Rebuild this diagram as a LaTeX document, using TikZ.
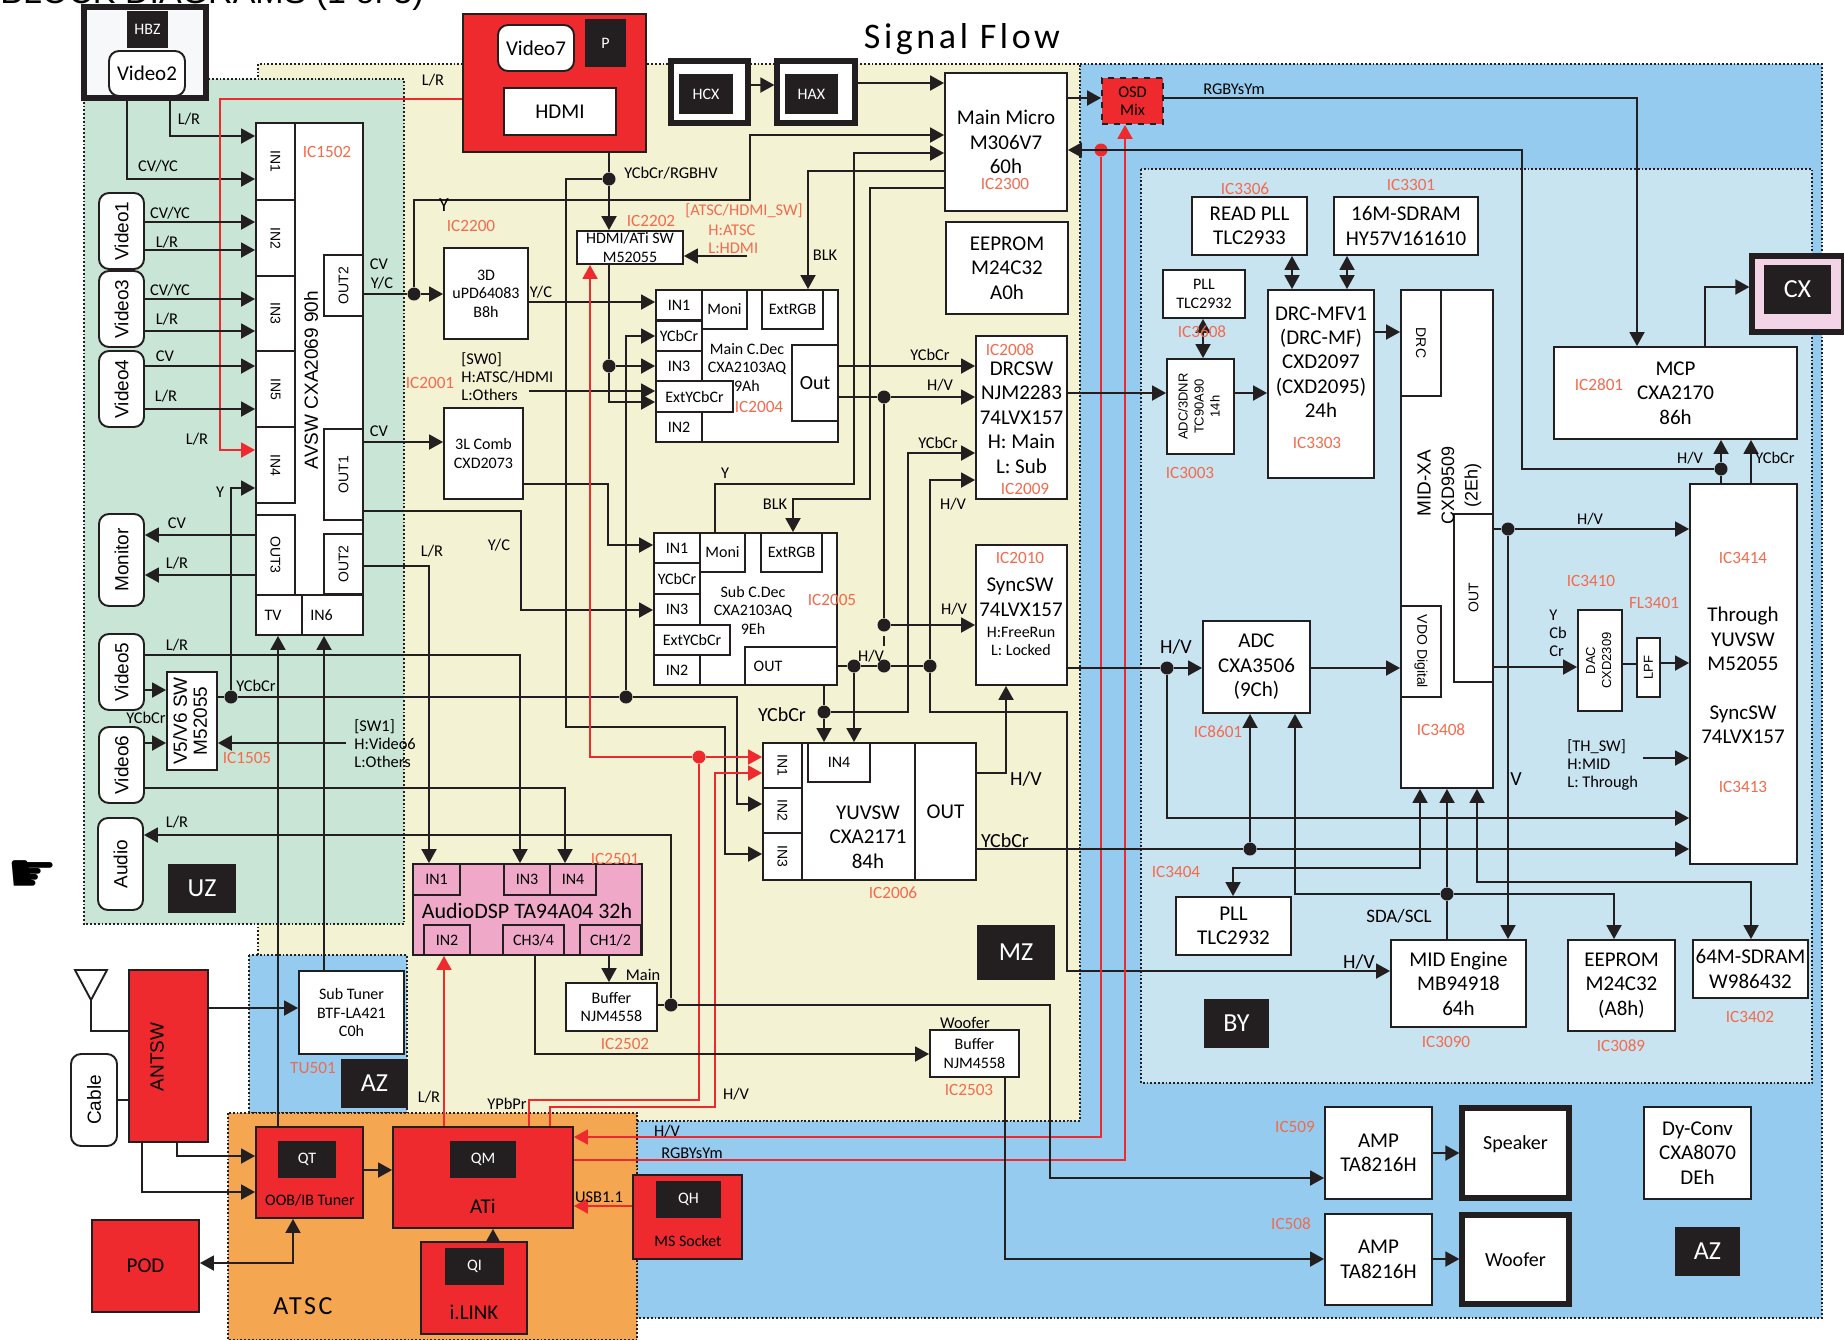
\documentclass[tikz,border=0pt]{standalone}
\usepackage{fontspec}
\setmainfont{Carlito}
\newfontfamily\widefont{Liberation Sans}
\newfontfamily\symfont{DejaVu Sans}
\usetikzlibrary{arrows.meta}
\definecolor{inkblack}{HTML}{231F20}
\definecolor{boxred}{HTML}{EE2A2E}
\definecolor{icred}{HTML}{F26B4E}
\definecolor{zoneyellow}{HTML}{F3F2D3}
\definecolor{zonegreen}{HTML}{C9E5D6}
\definecolor{zoneblue}{HTML}{94CBEE}
\definecolor{zonelight}{HTML}{C8E4F1}
\definecolor{zoneorange}{HTML}{F4A651}
\definecolor{dsppink}{HTML}{F0A8C9}
\definecolor{cxpink}{HTML}{F2D4E6}
\definecolor{hbzpale}{HTML}{F6F8FA}
\newcommand{\fsz}[2]{\fontsize{#1}{#2}\selectfont}
\tikzset{
  span/.style n args={4}{at={({(#1+#3)/2},{(#2+#4)/2})},
    minimum width={(#3-#1)*0.5pt},minimum height={(#4-#2)*0.5pt}},
  zone/.style={draw=inkblack,densely dotted,line width=0.9pt},
  chip/.style={draw=inkblack,fill=white,line width=0.95pt,inner sep=0pt,align=center,text=black},
  redchip/.style={chip,fill=boxred},
  pinkchip/.style={chip,fill=dsppink},
  tagbox/.style={fill=inkblack,text=white,inner sep=0pt,align=center,font=\fsz{8}{10}},
  zonetag/.style={tagbox,font=\fsz{13}{15}},
  framebox/.style={chip,line width=2.6pt},
  jackbox/.style={chip,rounded corners=5pt},
  jdot/.style={circle,fill=inkblack,inner sep=0pt,minimum size=6.5pt},
  jdotred/.style={jdot,fill=boxred},
  sigline/.style={line width=0.95pt,draw=inkblack},
  sigflow/.style={sigline,-{Triangle[length=7pt,width=7.5pt]}},
  sigboth/.style={sigline,{Triangle[length=7pt,width=7.5pt]}-{Triangle[length=7pt,width=7.5pt]}},
  redline/.style={line width=0.95pt,draw=boxred},
  redflow/.style={redline,-{Triangle[length=7pt,width=7.5pt]}},
  lab/.style={inner sep=0pt,align=center,font=\fsz{8.2}{9}},
  labl/.style={lab,anchor=west,align=left},
  labbig/.style={lab,font=\fsz{10}{12}},
  iclab/.style={lab,text=icred,font=\fsz{8.6}{9.5}},
  bigtxt/.style={font=\fsz{10.5}{12.2}},
  midtxt/.style={font=\fsz{8}{9.3}},
  porttxt/.style={font=\fsz{8}{9}},
  widetxt/.style={font=\widefont\fsz{9.5}{12}},
  portrot/.style={font=\widefont\fsz{7}{9}}
}
\begin{document}
\begin{tikzpicture}[x=0.5pt,y=-0.5pt]
\useasboundingbox (0,0) rectangle (1844,1340);
\node[inner sep=0pt,anchor=base west,font=\widefont\fsz{17}{20}] (pageTitle) at (0,3) {BLOCK DIAGRAMS (1 of 3)};
% zones
\draw[zone,fill=zoneyellow] (258,64) rectangle (1080,1121);
\draw[zone,fill=zoneblue] (1080,64)--(1822,64)--(1822,1318)--(637,1318)--(637,1121)--(1080,1121)--cycle;
\draw[zone,fill=zonegreen] (84,79) rectangle (404,924);
\draw[zone,fill=zonelight] (1141,169) rectangle (1812,1083);
\draw[zone,fill=zoneblue] (249,955) rectangle (407,1113);
\draw[zone,fill=zoneorange] (228,1113) rectangle (637,1340);
\node[lab,font=\fsz{18}{20}\addfontfeature{LetterSpace=10}] (flowTitle) at (962,39) {Signal Flow};
\node[font=\symfont\fsz{28}{30},inner sep=0pt] (handMark) at (33,877) {☛};
% top row
\node[framebox,fill=hbzpale,span={84}{7}{206}{98}] (hbzBox) {};
\node[tagbox,span={127}{11}{168}{48}] (hbzTag) {HBZ};
\node[jackbox,span={109}{51}{185}{96},font=\fsz{10.5}{12}] (vidTwo) {Video2};
\node[redchip,span={463}{14}{646}{152}] (hdmiBox) {};
\node[jackbox,span={498}{25}{574}{71},font=\fsz{10.5}{12}] (vidSeven) {Video7};
\node[tagbox,span={585}{19}{626}{67}] (pTag) {P};
\node[chip,span={504}{88}{616}{135},font=\fsz{10.5}{12}] (hdmiPort) {HDMI};
\node[framebox,span={671}{61}{748}{123}] (hcxBox) {};
\node[tagbox,span={679}{74}{733}{114}] (hcxTag) {HCX};
\node[framebox,span={777}{61}{855}{123}] (haxBox) {};
\node[tagbox,span={785}{74}{838}{114}] (haxTag) {HAX};
\node[chip,bigtxt,span={945}{73}{1067}{211}] (mainMicro) {Main Micro\\M306V7\\60h};
\node[draw=inkblack,dashed,fill=boxred,line width=0.95pt,inner sep=0pt,align=center,lab,span={1102}{78}{1163}{124}] (osdMix) {OSD\\Mix};
\node[chip,bigtxt,span={946}{222}{1068}{314}] (eepromA) {EEPROM\\M24C32\\A0h};
% green side
\node[jackbox,span={99}{193}{144}{269},widetxt] (vidOne) {\rotatebox{90}{Video1}};
\node[jackbox,span={99}{271}{144}{347},widetxt] (vidThree) {\rotatebox{90}{Video3}};
\node[jackbox,span={99}{351}{144}{427},widetxt] (vidFour) {\rotatebox{90}{Video4}};
\node[jackbox,span={99}{514}{144}{606},widetxt] (monitorJack) {\rotatebox{90}{Monitor}};
\node[jackbox,span={99}{634}{144}{710},widetxt] (vidFive) {\rotatebox{90}{Video5}};
\node[jackbox,span={99}{727}{144}{803},widetxt] (vidSix) {\rotatebox{90}{Video6}};
\node[jackbox,span={98}{818}{143}{910},widetxt] (audioJack) {\rotatebox{90}{Audio}};
\node[chip,span={167}{672}{217}{770},widetxt] (vSel) {\rotatebox{90}{\begin{tabular}{@{}c@{}}V5/V6 SW\\[-2pt]M52055\end{tabular}}};
\node[zonetag,span={168}{864}{236}{913}] (uzTag) {UZ};
\node[chip,span={256}{123}{363}{635}] (avsw) {};
\node[chip,portrot,span={256}{123}{295}{200}] (avIna) {\rotatebox{-90}{IN1}};
\node[chip,portrot,span={256}{200}{295}{276}] (avInb) {\rotatebox{-90}{IN2}};
\node[chip,portrot,span={256}{276}{295}{351}] (avInc) {\rotatebox{-90}{IN3}};
\node[chip,portrot,span={256}{351}{295}{427}] (avIne) {\rotatebox{-90}{IN5}};
\node[chip,portrot,span={256}{427}{295}{503}] (avInd) {\rotatebox{-90}{IN4}};
\node[chip,portrot,span={256}{515}{295}{595}] (avOutC) {\rotatebox{-90}{OUT3}};
\node[chip,porttxt,span={256}{595}{302}{635}] (avTv) {TV\hspace*{6pt}};
\node[chip,porttxt,span={302}{595}{363}{635}] (avInf) {IN6\hspace*{11pt}};
\node[chip,portrot,span={324}{255}{363}{316}] (avOutU) {\rotatebox{90}{OUT2}};
\node[chip,portrot,span={324}{429}{363}{520}] (avOutA) {\rotatebox{90}{OUT1}};
\node[chip,portrot,span={324}{534}{363}{594}] (avOutB) {\rotatebox{90}{OUT2}};
\node[lab,font=\widefont\fsz{9.5}{12},rotate=90] (avswText) at (311,380) {AVSW CXA2069 90h};
% main dec
\node[chip,midtxt,span={444}{248}{528}{339}] (dddBox) {3D\\uPD64083\\B8h};
\node[chip,midtxt,span={444}{408}{523}{499}] (combBox) {3L Comb\\CXD2073};
\node[chip,midtxt,span={577}{231}{683}{264}] (hdmiSw) {HDMI/ATi SW\\M52055};
\node[chip,span={656}{290}{838}{442}] (mainDec) {};
\node[chip,porttxt,span={656}{290}{702}{320}] (mdIna) {IN1};
\node[chip,porttxt,span={656}{321}{702}{351}] (mdYc) {YCbCr};
\node[chip,porttxt,span={656}{351}{702}{381}] (mdInc) {IN3};
\node[chip,porttxt,span={656}{381}{733}{412}] (mdExt) {ExtYCbCr};
\node[chip,porttxt,span={656}{412}{702}{442}] (mdInb) {IN2};
\node[chip,porttxt,span={702}{290}{747}{329}] (mdMoni) {Moni};
\node[chip,porttxt,span={762}{290}{823}{329}] (mdRgb) {ExtRGB};
\node[chip,font=\fsz{10}{12},span={792}{345}{838}{421}] (mdOut) {Out};
\node[lab,midtxt] (mdTextA) at (747,349) {Main C.Dec};
\node[lab,midtxt] (mdTextB) at (747,368) {CXA2103AQ};
\node[lab,midtxt] (mdTextC) at (747,386) {9Ah};
% sub dec
\node[chip,span={654}{533}{837}{685}] (subDec) {};
\node[chip,porttxt,span={654}{533}{700}{563}] (sdIna) {IN1};
\node[chip,porttxt,span={654}{563}{700}{594}] (sdYc) {YCbCr};
\node[chip,porttxt,span={654}{594}{700}{625}] (sdInc) {IN3};
\node[chip,porttxt,span={654}{625}{730}{655}] (sdExt) {ExtYCbCr};
\node[chip,porttxt,span={654}{655}{700}{685}] (sdInb) {IN2};
\node[chip,porttxt,span={700}{533}{745}{572}] (sdMoni) {Moni};
\node[chip,porttxt,span={761}{533}{822}{572}] (sdRgb) {ExtRGB};
\node[chip,porttxt,span={745}{647}{837}{685}] (sdOut) {OUT\hspace*{23pt}};
\node[lab,midtxt] (sdTextA) at (753,592) {Sub C.Dec};
\node[lab,midtxt] (sdTextB) at (753,611) {CXA2103AQ};
\node[lab,midtxt] (sdTextC) at (753,629) {9Eh};
% switches
\node[chip,bigtxt,span={976}{336}{1067}{499}] (drcsw) {DRCSW\\NJM2283\\74LVX157\\H:\ Main\\L:\ Sub};
\node[chip,span={976}{545}{1067}{685}] (syncSw) {};
\node[lab,bigtxt] (syncTextA) at (1020,586) {SyncSW};
\node[lab,bigtxt] (syncTextB) at (1021,610) {74LVX157};
\node[lab,midtxt] (syncTextC) at (1021,632) {H:FreeRun};
\node[lab,midtxt] (syncTextD) at (1021,650) {L:\ Locked};
\node[chip,span={763}{743}{976}{880}] (yuvSw) {};
\node[chip,portrot,span={763}{743}{802}{788}] (yuvIna) {\rotatebox{-90}{IN1}};
\node[chip,portrot,span={763}{788}{802}{833}] (yuvInb) {\rotatebox{-90}{IN2}};
\node[chip,portrot,span={763}{833}{802}{880}] (yuvInc) {\rotatebox{-90}{IN3}};
\node[chip,porttxt,span={808}{743}{870}{782}] (yuvInd) {IN4};
\node[chip,font=\fsz{10.5}{12},span={915}{743}{976}{880}] (yuvOut) {OUT};
\node[lab,bigtxt] (yuvText) at (868,837) {YUVSW\\CXA2171\\84h};
\node[zonetag,span={977}{925}{1055}{980}] (mzTag) {MZ};
% audio
\node[pinkchip,span={413}{864}{642}{955}] (dspBox) {};
\node[pinkchip,porttxt,span={413}{864}{460}{895}] (dspIna) {IN1};
\node[pinkchip,porttxt,span={504}{864}{550}{895}] (dspInc) {IN3};
\node[pinkchip,porttxt,span={550}{864}{596}{895}] (dspInd) {IN4};
\node[pinkchip,porttxt,span={424}{925}{470}{955}] (dspInb) {IN2};
\node[pinkchip,porttxt,span={503}{925}{564}{955}] (dspChb) {CH3/4};
\node[pinkchip,porttxt,span={580}{925}{641}{955}] (dspCha) {CH1/2};
\node[lab,font=\fsz{11}{12}] (dspText) at (527,911) {AudioDSP TA94A04 32h};
\node[chip,midtxt,span={566}{983}{657}{1031}] (bufMain) {Buffer\\NJM4558};
\node[chip,midtxt,span={930}{1030}{1019}{1077}] (bufSub) {Buffer\\NJM4558};
% tuners
\node[chip,midtxt,span={299}{971}{404}{1054}] (subTuner) {Sub Tuner\\BTF-LA421\\C0h};
\node[zonetag,span={341}{1059}{408}{1108}] (azTagA) {AZ};
\node[redchip,span={129}{970}{208}{1142}] (antSw) {};
\node[lab,widetxt,rotate=90] (antText) at (157,1057) {ANTSW};
\node[jackbox,span={71}{1054}{117}{1146},widetxt] (cableJack) {\rotatebox{90}{Cable}};
\node[redchip,span={256}{1127}{363}{1218}] (oobTuner) {};
\node[tagbox,span={278}{1141}{336}{1178}] (qtTag) {QT};
\node[lab,midtxt] (oobText) at (310,1200) {OOB/IB Tuner};
\node[redchip,span={393}{1127}{573}{1228}] (atiBox) {};
\node[tagbox,span={450}{1141}{516}{1178}] (qmTag) {QM};
\node[lab,bigtxt] (atiText) at (483,1206) {ATi};
\node[redchip,span={421}{1242}{527}{1334}] (ilinkBox) {};
\node[tagbox,span={445}{1248}{504}{1285}] (qiTag) {QI};
\node[lab,bigtxt] (ilinkText) at (474,1312) {i.LINK};
\node[redchip,span={633}{1175}{742}{1259}] (msSocket) {};
\node[tagbox,span={656}{1181}{721}{1218}] (qhTag) {QH};
\node[lab,midtxt] (msText) at (688,1241) {MS Socket};
\node[redchip,bigtxt,span={92}{1220}{199}{1312}] (podBox) {POD};
% BY zone
\node[chip,bigtxt,span={1192}{197}{1307}{255}] (readPll) {READ PLL\\TLC2933};
\node[chip,bigtxt,span={1334}{197}{1478}{255}] (sdramA) {16M-SDRAM\\HY57V161610};
\node[chip,midtxt,span={1163}{270}{1245}{318}] (pllSmall) {PLL\\TLC2932};
\node[chip,span={1167}{359}{1234}{454},font=\widefont\fsz{6.5}{8}] (adcDnr) {\rotatebox{90}{\begin{tabular}{@{}c@{}}ADC/3DNR\\TC90A90\\14h\end{tabular}}};
\node[chip,span={1268}{290}{1374}{478}] (drcMfv) {};
\node[lab,bigtxt] (drcText) at (1321,362) {DRC-MFV1\\(DRC-MF)\\CXD2097\\(CXD2095)\\24h};
\node[chip,span={1401}{290}{1493}{788}] (midXa) {};
\node[chip,portrot,span={1401}{290}{1441}{396}] (midDrc) {\rotatebox{-90}{DRC}};
\node[chip,portrot,span={1454}{514}{1493}{682}] (midOut) {\rotatebox{90}{OUT}};
\node[chip,portrot,span={1401}{606}{1441}{697}] (midVdo) {\rotatebox{-90}{VDO Digital}};
\node[lab,font=\widefont\fsz{9.5}{12},rotate=90] (midTextA) at (1424,483) {MID-XA};
\node[lab,font=\widefont\fsz{9}{12},rotate=90] (midTextB) at (1448,485) {CXD9509};
\node[lab,font=\widefont\fsz{9}{12},rotate=90] (midTextC) at (1473,485) {(2Eh)};
\node[chip,bigtxt,span={1554}{347}{1797}{439}] (mcpBox) {MCP\\CXA2170\\86h};
\node[framebox,fill=cxpink,span={1752}{256}{1844}{332}] (cxBox) {};
\node[zonetag,span={1764}{265}{1831}{314}] (cxTag) {CX};
\node[chip,span={1690}{484}{1797}{864}] (through) {};
\node[lab,bigtxt] (thruTextA) at (1743,639) {Through\\YUVSW\\M52055};
\node[lab,bigtxt] (thruTextB) at (1743,725) {SyncSW\\74LVX157};
\node[chip,span={1203}{621}{1310}{713},bigtxt] (adcBox) {ADC\\CXA3506\\(9Ch)};
\node[chip,span={1578}{610}{1622}{711},font=\widefont\fsz{6.5}{8}] (dacBox) {\rotatebox{90}{\begin{tabular}{@{}c@{}}DAC\\CXD2309\end{tabular}}};
\node[chip,span={1637}{638}{1660}{697},font=\widefont\fsz{6.5}{8}] (lpfBox) {\rotatebox{90}{LPF}};
\node[chip,bigtxt,span={1176}{897}{1291}{955}] (pllB) {PLL\\TLC2932};
\node[chip,bigtxt,span={1391}{940}{1526}{1027}] (midEngine) {MID Engine\\MB94918\\64h};
\node[chip,bigtxt,span={1568}{940}{1675}{1031}] (eepromB) {EEPROM\\M24C32\\(A8h)};
\node[chip,bigtxt,span={1693}{940}{1808}{998}] (sdramB) {64M-SDRAM\\W986432};
\node[zonetag,span={1204}{999}{1269}{1048}] (byTag) {BY};
% audio out
\node[chip,bigtxt,span={1325}{1107}{1432}{1199}] (ampA) {AMP\\TA8216H};
\node[framebox,font=\fsz{10}{12},span={1462}{1108}{1569}{1198},text depth=10pt] (speakerBox) {Speaker};
\node[chip,bigtxt,span={1325}{1214}{1432}{1305}] (ampB) {AMP\\TA8216H};
\node[framebox,font=\fsz{10}{12},span={1462}{1215}{1569}{1304}] (wooferBox) {Woofer};
\node[chip,bigtxt,span={1644}{1107}{1751}{1199}] (dyConv) {Dy-Conv\\CXA8070\\DEh};
\node[zonetag,span={1675}{1227}{1740}{1276}] (azTagB) {AZ};
% junctions
\node[jdot] (jOutU) at (414,294) {};
\node[jdot] (jHdmi) at (609,179) {};
\node[jdot] (jSwOut) at (609,366) {};
\node[jdot] (jVsel) at (231,697) {};
\node[jdot] (jYcMain) at (626,697) {};
\node[jdotred] (jRedA) at (699,757) {};
\node[jdotred] (jRedB) at (1101,150) {};
\node[jdot] (jHvMain) at (884,397) {};
\node[jdot] (jSync) at (884,625) {};
\node[jdot] (jSubA) at (854,666) {};
\node[jdot] (jSubB) at (884,666) {};
\node[jdot] (jSubC) at (930,666) {};
\node[jdot] (jSubY) at (824,712) {};
\node[jdot] (jHvIn) at (1167,668) {};
\node[jdot] (jYcIn) at (1250,849) {};
\node[jdot] (jSda) at (1447,894) {};
\node[jdot] (jHvMid) at (1508,529) {};
\node[jdot] (jHvMcp) at (1721,469) {};
\node[jdot] (jBuf) at (671,1005) {};
\coordinate (gapTop) at (884,636);
\coordinate (gapEnd) at (884,646);
% left connectors
\draw[sigflow] (hbzBox.south -| 127,0) |- (avIna.west |- 0,179);
\draw[sigflow] (hbzBox.south -| 170,0) |- (avIna.west |- 0,136);
\draw[redflow] (hdmiBox.west |- 0,99) -- (220,99) |- (avInd.west |- 0,450);
\draw[sigflow] (vidOne.east |- 0,222) -- (avInb.west |- 0,222);
\draw[sigflow] (vidOne.east |- 0,250) -- (avInb.west |- 0,250);
\draw[sigflow] (vidThree.east |- 0,299) -- (avInc.west |- 0,299);
\draw[sigflow] (vidThree.east |- 0,331) -- (avInc.west |- 0,331);
\draw[sigflow] (vidFour.east |- 0,366) -- (avIne.west |- 0,366);
\draw[sigflow] (vidFour.east |- 0,409) -- (avIne.west |- 0,409);
\draw[sigflow] (avOutC.west |- 0,535) -- (monitorJack.east |- 0,535);
\draw[sigflow] (avOutC.west |- 0,575) -- (monitorJack.east |- 0,575);
\draw[sigflow] (vidFive.east |- 0,690) -- (vSel.west |- 0,690);
\draw[sigflow] (vidSix.east |- 0,743) -- (vSel.west |- 0,743);
\coordinate (swOneEnd) at (346,743);
\draw[sigflow] (swOneEnd) -- (vSel.east |- swOneEnd);
\draw[sigline] (vSel.east |- jVsel) -- (jVsel);
\draw[sigflow] (jVsel) |- (avInd.west |- 0,488);
\draw[sigline] (jVsel) -- (jYcMain);
\draw[sigflow] (jYcMain) -- (626,336) -- (mdYc.west |- 0,336);
\draw[sigflow] (jYcMain) -- (737,697) -- (737,804) -- (yuvInb.west |- 0,804);
\draw[sigflow] (vidFive.east |- 0,655) -- (520,655) -- (dspInc.north -| 520,0);
\draw[sigflow] (vidSix.east |- 0,788) -- (565,788) -- (dspInd.north -| 565,0);
\draw[sigflow] (avOutB.east |- 0,566) -- (429,566) -- (dspIna.north -| 429,0);
\draw[sigflow] (jBuf) -- (671,835) -- (audioJack.east |- 0,835);
\draw[sigflow] (oobTuner.north -| 278,0) -- (avTv.south -| 278,0);
\draw[sigflow] (subTuner.north -| 324,0) -- (avInf.south -| 324,0);
% centre connectors
\draw[sigline] (avOutU.east |- jOutU) -- (jOutU);
\draw[sigflow] (jOutU) -- (dddBox.west |- jOutU);
\draw[sigflow] (jOutU) -- (414,200) -- (750,200) -- (750,135) -- (mainMicro.west |- 0,135);
\draw[sigflow] (avOutA.east |- 0,442) -- (combBox.west |- 0,442);
\draw[sigflow] (dddBox.east |- 0,302) -- (mdIna.west |- 0,302);
\draw[sigline] (hdmiBox.south -| jHdmi) -- (jHdmi);
\draw[sigflow] (jHdmi) -- (hdmiSw.north -| jHdmi);
\draw[sigflow] (jHdmi) -- (566,179) -- (566,727) -- (725,727) -- (725,854) -- (yuvInc.west |- 0,854);
\draw[sigline] (hdmiSw.south -| jSwOut) -- (jSwOut);
\draw[sigflow] (jSwOut) -- (mdInc.west |- jSwOut);
\draw[sigflow] (jSwOut) |- (mdExt.west |- 0,402);
\coordinate (swZero) at (529,391);
\draw[sigflow] (swZero) -- (mdExt.west |- swZero);
\coordinate (swHdmi) at (747,256);
\draw[sigflow] (swHdmi) -- (hdmiSw.east |- swHdmi);
\draw[sigflow] (combBox.east |- 0,484) -- (608,484) |- (sdIna.west |- 0,545);
\draw[sigflow] (avOutA.east |- 0,511) -- (521,511) |- (sdInc.west |- 0,610);
\draw[sigflow] (mainMicro.west |- 0,171) -- (808,171) -- (mdRgb.north -| 808,0);
\draw[sigflow] (mainMicro.west |- 0,188) -- (870,188) -- (870,499) -- (793,499) -- (sdRgb.north -| 793,0);
\draw[sigflow] (sdMoni.north -| 715,0) -- (715,484) -- (854,484) -- (854,153) -- (mainMicro.west |- 0,153);
\draw[sigflow] (hcxBox.east |- 0,85) -- (haxBox.west |- 0,85);
\draw[sigflow] (haxBox.east |- 0,83) -- (mainMicro.west |- 0,83);
\draw[sigflow] (mainMicro.east |- 0,98) -- (osdMix.west |- 0,98);
\draw[sigflow] (mdOut.east |- 0,366) -- (drcsw.west |- 0,366);
\draw[sigline] (mdOut.east |- jHvMain) -- (jHvMain);
\draw[sigflow] (jHvMain) -- (drcsw.west |- jHvMain);
\draw[sigline] (jHvMain) -- (jSync);
\draw[sigflow] (jSync) -- (syncSw.west |- jSync);
\draw[sigline] (gapTop) -- (gapEnd);
\draw[sigline] (sdOut.east |- jSubA) -- (jSubA) -- (jSubB) -- (jSubC);
\draw[sigflow] (jSubA) -- (yuvInd.north -| jSubA);
\draw[sigflow] (jSubC) -- (930,480) -- (drcsw.west |- 0,480);
\draw[sigflow] (jSubC) -- (930,712) -- (1067,712) -- (1067,971) -- (midEngine.west |- 0,971);
\draw[sigline] (sdOut.south -| jSubY) -- (jSubY);
\draw[sigflow] (jSubY) -- (yuvInd.north -| jSubY);
\draw[sigflow] (jSubY) -- (908,712) -- (908,453) -- (drcsw.west |- 0,453);
\draw[sigflow] (yuvOut.east |- 0,773) -- (1006,773) -- (syncSw.south -| 1006,0);
% red connectors
\draw[redflow] (jRedA) -- (yuvIna.west |- jRedA);
\draw[redflow] (jRedA) -- (590,757) -- (hdmiSw.south -| 590,0);
\draw[redline] (atiBox.north -| 529,0) -- (529,1100) -- (699,1100) -- (jRedA);
\draw[redflow] (atiBox.north -| 550,0) -- (550,1107) -- (715,1107) -- (715,773) -- (yuvIna.west |- 0,773);
\draw[redflow] (atiBox.north -| 444,0) -- (dspInb.south -| 444,0);
\draw[redflow] (jRedB) -- (1101,1137) -- (atiBox.east |- 0,1137);
\draw[redflow] (atiBox.east |- 0,1160) -- (1125,1160) -- (osdMix.south -| 1125,0);
\draw[redflow] (msSocket.west |- 0,1206) -- (atiBox.east |- 0,1206);
% lower left connectors
\draw[sigflow] (antSw.east |- 0,1008) -- (subTuner.west |- 0,1008);
\draw[sigflow] (antSw.south -| 177,0) |- (oobTuner.west |- 0,1156);
\draw[sigflow] (antSw.south -| 142,0) |- (oobTuner.west |- 0,1192);
\draw[sigline] (cableJack.east |- 0,1100) -- (antSw.west |- 0,1100);
\coordinate (antTip) at (91,1000);
\draw[sigline] (75,970) -- (107,970) -- (antTip) -- cycle;
\draw[sigline] (antTip) |- (antSw.west |- 0,1031);
\draw[sigflow] (oobTuner.east |- 0,1170) -- (atiBox.west |- 0,1170);
\draw[sigflow] (ilinkBox.north -| 493,0) -- (atiBox.south -| 493,0);
\draw[sigboth] (podBox.east |- 0,1263) -| (oobTuner.south -| 293,0);
\draw[sigflow] (dspCha.south -| 609,0) -- (bufMain.north -| 609,0);
\draw[sigflow] (dspChb.south -| 535,0) |- (bufSub.west |- 0,1054);
\draw[sigline] (bufMain.east |- jBuf) -- (jBuf);
\draw[sigflow] (jBuf) -- (1050,1005) |- (ampA.west |- 0,1178);
\draw[sigflow] (bufSub.south -| 1005,0) |- (ampB.west |- 0,1259);
\draw[sigflow] (ampA.east |- 0,1153) -- (speakerBox.west |- 0,1153);
\draw[sigflow] (ampB.east |- 0,1259) -- (wooferBox.west |- 0,1259);
% right connectors
\draw[sigflow] (drcsw.east |- 0,393) -- (adcDnr.west |- 0,393);
\draw[sigflow] (adcDnr.east |- 0,393) -- (drcMfv.west |- 0,393);
\draw[sigboth] (readPll.south -| 1292,0) -- (drcMfv.north -| 1292,0);
\draw[sigboth] (sdramA.south -| 1347,0) -- (drcMfv.north -| 1347,0);
\draw[sigboth] (pllSmall.south -| 1203,0) -- (adcDnr.north -| 1203,0);
\draw[sigflow] (drcMfv.east |- 0,332) -- (midDrc.west |- 0,332);
\draw[sigflow] (osdMix.east |- 0,98) -- (1637,98) -- (mcpBox.north -| 1637,0);
\draw[sigflow] (jHvMcp) -- (1522,469) -- (1522,150) -- (mainMicro.east |- 0,150);
\draw[sigflow] (jHvMcp) -- (mcpBox.south -| jHvMcp);
\draw[sigline] (jHvMcp) -- (through.north -| jHvMcp);
\draw[sigflow] (through.north -| 1751,0) -- (mcpBox.south -| 1751,0);
\draw[sigflow] (mcpBox.north -| 1705,0) |- (cxBox.west |- 0,287);
\draw[sigline] (midXa.east |- jHvMid) -- (jHvMid);
\draw[sigflow] (jHvMid) -- (through.west |- jHvMid);
\draw[sigflow] (jHvMid) -- (midEngine.north -| jHvMid);
\draw[sigline] (syncSw.east |- jHvIn) -- (jHvIn);
\draw[sigflow] (jHvIn) -- (adcBox.west |- jHvIn);
\draw[sigflow] (jHvIn) |- (through.west |- 0,818);
\draw[sigflow] (adcBox.east |- 0,668) -- (midVdo.west |- 0,668);
\draw[sigflow] (midXa.east |- 0,667) -- (dacBox.west |- 0,667);
\draw[sigline] (dacBox.east |- 0,664) -- (lpfBox.west |- 0,664);
\draw[sigflow] (lpfBox.east |- 0,663) -- (through.west |- 0,663);
\coordinate (thSwEnd) at (1643,758);
\draw[sigflow] (thSwEnd) -- (through.west |- thSwEnd);
\draw[sigline] (yuvOut.east |- jYcIn) -- (jYcIn);
\draw[sigflow] (jYcIn) -- (through.west |- jYcIn);
\draw[sigflow] (jYcIn) -- (adcBox.south -| jYcIn);
\draw[sigflow] (jSda) -- (1295,894) -- (adcBox.south -| 1295,0);
\draw[sigflow] (jSda) -- (midXa.south -| jSda);
\draw[sigline] (jSda) -- (midEngine.north -| jSda);
\draw[sigflow] (jSda) -- (1614,894) -- (eepromB.north -| 1614,0);
\draw[sigboth] (pllB.north -| 1233,0) |- (1420,868) -- (midXa.south -| 1420,0);
\draw[sigboth] (sdramB.north -| 1751,0) |- (1477,882) -- (midXa.south -| 1477,0);
% labels
\node[lab] (lbLrTop) at (433,80) {L/R};
\node[lab] (lbLrA) at (189,119) {L/R};
\node[lab] (lbCvA) at (158,166) {CV/YC};
\node[lab] (lbCvB) at (170,213) {CV/YC};
\node[lab] (lbLrB) at (167,242) {L/R};
\node[lab] (lbCvC) at (170,290) {CV/YC};
\node[lab] (lbLrC) at (167,319) {L/R};
\node[lab] (lbCvD) at (165,356) {CV};
\node[lab] (lbLrD) at (166,396) {L/R};
\node[lab] (lbLrE) at (197,439) {L/R};
\node[lab] (lbCvE) at (379,264) {CV};
\node[lab] (lbYcA) at (382,283) {Y/C};
\node[labbig] (lbYA) at (444,205) {Y};
\node[lab] (lbYcB) at (541,292) {Y/C};
\node[labl] (lbSwZero) at (461,377) {[SW0]\\H:ATSC/HDMI\\L:Others};
\node[lab] (lbCvF) at (379,431) {CV};
\node[lab] (lbYr) at (671,173) {YCbCr/RGBHV};
\node[lab,text=icred] (lbAtscSw) at (744,211) {[ATSC/HDMI\_SW]};
\node[labl,text=icred] (lbAtscHl) at (708,239) {H:ATSC\\L:HDMI};
\node[lab] (lbBlkA) at (825,255) {BLK};
\node[lab] (lbYB) at (725,473) {Y};
\node[lab] (lbBlkB) at (775,504) {BLK};
\node[lab] (lbYbA) at (930,355) {YCbCr};
\node[lab] (lbHvA) at (940,385) {H/V};
\node[lab] (lbYbB) at (938,443) {YCbCr};
\node[lab] (lbHvB) at (953,504) {H/V};
\node[lab] (lbHvC) at (954,609) {H/V};
\node[lab] (lbHvD) at (871,656) {H/V};
\node[labbig] (lbYbC) at (782,715) {YCbCr};
\node[labbig] (lbHvE) at (1026,779) {H/V};
\node[labbig] (lbYbD) at (1005,841) {YCbCr};
\node[labbig] (lbHvF) at (1176,647) {H/V};
\node[lab] (lbRgbA) at (1234,89) {RGBYsYm};
\node[lab] (lbYcC) at (499,545) {Y/C};
\node[lab] (lbLrF) at (432,551) {L/R};
\node[lab] (lbCvG) at (177,523) {CV};
\node[lab] (lbLrG) at (177,563) {L/R};
\node[lab] (lbYC) at (220,492) {Y};
\node[lab] (lbLrH) at (177,645) {L/R};
\node[lab] (lbYbE) at (256,686) {YCbCr};
\node[lab] (lbYbF) at (146,718) {YCbCr};
\node[labl] (lbSwOne) at (354,744) {[SW1]\\H:Video6\\L:Others};
\node[lab] (lbLrI) at (177,822) {L/R};
\node[lab] (lbMain) at (643,975) {Main};
\node[lab] (lbWoofer) at (965,1023) {Woofer};
\node[lab] (lbLrJ) at (429,1097) {L/R};
\node[lab] (lbYpb) at (507,1104) {YPbPr};
\node[lab] (lbHvG) at (736,1094) {H/V};
\node[lab] (lbHvH) at (667,1131) {H/V};
\node[lab] (lbRgbB) at (692,1153) {RGBYsYm};
\node[lab] (lbUsb) at (599,1197) {USB1.1};
\node[lab,font=\fsz{13}{15}\addfontfeature{LetterSpace=10}] (lbAtsc) at (303,1306) {ATSC};
\node[labbig,font=\fsz{9.5}{12}] (lbSda) at (1399,916) {SDA/SCL};
\node[labbig] (lbHvI) at (1359,962) {H/V};
\node[labbig] (lbV) at (1516,779) {V};
\node[lab] (lbHvJ) at (1590,519) {H/V};
\node[lab] (lbHvK) at (1690,458) {H/V};
\node[lab] (lbYbG) at (1775,458) {YCbCr};
\node[labl] (lbYcc) at (1549,633) {Y\\Cb\\Cr};
\node[labl] (lbThSw) at (1567,765) {[TH\_SW]\\H:MID\\L:\ Through};
% ic numbers
\node[iclab] (icA) at (327,152) {IC1502};
\node[iclab] (icB) at (471,226) {IC2200};
\node[iclab] (icC) at (430,383) {IC2001};
\node[iclab] (icD) at (651,221) {IC2202};
\node[iclab] (icE) at (1005,184) {IC2300};
\node[iclab] (icF) at (1010,350) {IC2008};
\node[iclab] (icG) at (1025,489) {IC2009};
\node[iclab] (icH) at (759,407) {IC2004};
\node[iclab] (icI) at (832,600) {IC2005};
\node[iclab] (icJ) at (1020,558) {IC2010};
\node[iclab] (icK) at (893,893) {IC2006};
\node[iclab] (icL) at (247,758) {IC1505};
\node[iclab] (icM) at (615,859) {IC2501};
\node[iclab] (icN) at (625,1044) {IC2502};
\node[iclab] (icO) at (969,1090) {IC2503};
\node[iclab] (icP) at (313,1068) {TU501};
\node[iclab] (icQ) at (1245,189) {IC3306};
\node[iclab] (icR) at (1411,185) {IC3301};
\node[iclab] (icS) at (1202,332) {IC3608};
\node[iclab] (icT) at (1190,473) {IC3003};
\node[iclab] (icU) at (1317,443) {IC3303};
\node[iclab] (icV) at (1599,385) {IC2801};
\node[iclab] (icW) at (1743,558) {IC3414};
\node[iclab] (icX) at (1591,581) {IC3410};
\node[iclab] (icY) at (1654,603) {FL3401};
\node[iclab] (icZ) at (1441,730) {IC3408};
\node[iclab] (icAa) at (1743,787) {IC3413};
\node[iclab] (icAb) at (1218,732) {IC8601};
\node[iclab] (icAc) at (1176,872) {IC3404};
\node[iclab] (icAd) at (1446,1042) {IC3090};
\node[iclab] (icAe) at (1621,1046) {IC3089};
\node[iclab] (icAf) at (1750,1017) {IC3402};
\node[iclab] (icAg) at (1295,1127) {IC509};
\node[iclab] (icAh) at (1291,1224) {IC508};
\end{tikzpicture}
\end{document}
